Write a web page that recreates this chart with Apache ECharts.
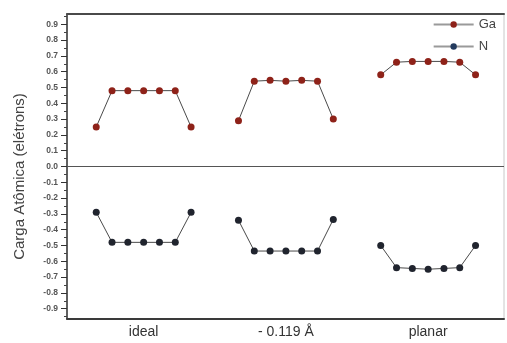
<!DOCTYPE html>
<html>
<head>
<meta charset="utf-8">
<script src="https://cdn.jsdelivr.net/npm/echarts@6/dist/echarts.min.js"></script>
<style>
  html, body { margin: 0; padding: 0; background: #fff; }
  #chart { width: 507px; height: 343px; }
</style>
</head>
<body>
<div id="chart"></div>
<script>
// Surface configurations (one group of seven atoms each)
const groups = ['ideal', '- 0.119 Å', 'planar'];

// Atomic charge (electrons) of the seven Ga atoms in each configuration
const gaIdeal  = [0.25, 0.48, 0.48, 0.48, 0.48, 0.48, 0.25];
const gaRelax  = [0.29, 0.54, 0.545, 0.54, 0.545, 0.54, 0.30];
const gaPlanar = [0.58, 0.66, 0.665, 0.665, 0.665, 0.66, 0.58];

// Atomic charge (electrons) of the seven N atoms in each configuration
const nIdeal  = [-0.29, -0.48, -0.48, -0.48, -0.48, -0.48, -0.29];
const nRelax  = [-0.34, -0.535, -0.535, -0.535, -0.535, -0.535, -0.335];
const nPlanar = [-0.50, -0.64, -0.645, -0.65, -0.645, -0.64, -0.50];

// Y-axis tick labels
const yTicks = [-0.9, -0.8, -0.7, -0.6, -0.5, -0.4, -0.3, -0.2, -0.1, 0.0,
                0.1, 0.2, 0.3, 0.4, 0.5, 0.6, 0.7, 0.8, 0.9];
const yMinorTicks = [-0.95, -0.85, -0.75, -0.65, -0.55, -0.45, -0.35, -0.25, -0.15, -0.05,
                     0.05, 0.15, 0.25, 0.35, 0.45, 0.55, 0.65, 0.75, 0.85, 0.95];

const gaSets = [gaIdeal, gaRelax, gaPlanar];
const nSets = [nIdeal, nRelax, nPlanar];

const GROUP_STEP = 9;   // x units between the first atoms of neighbouring groups
const groupCenters = groups.map((g, k) => k * GROUP_STEP + 3);

const GA_COLOR = '#8e2219';
const N_COLOR = '#20242e';
const LINE_COLOR = '#4a4a4a';

function toPairs(values, k) {
  return values.map((v, i) => [k * GROUP_STEP + i, v]);
}

const series = [];
gaSets.forEach((vals, k) => {
  series.push({
    name: 'Ga', type: 'line', data: toPairs(vals, k),
    symbol: 'circle', symbolSize: 7,
    itemStyle: { color: GA_COLOR },
    lineStyle: { color: LINE_COLOR, width: 1 },
    animation: false
  });
});
nSets.forEach((vals, k) => {
  series.push({
    name: 'N', type: 'line', data: toPairs(vals, k),
    symbol: 'circle', symbolSize: 7,
    itemStyle: { color: N_COLOR },
    lineStyle: { color: LINE_COLOR, width: 1 },
    animation: false
  });
});
// zero reference line across the plot
series[0].markLine = {
  silent: true, symbol: 'none', label: { show: false },
  lineStyle: { color: '#555', width: 1, type: 'solid' },
  data: [{ yAxis: 0 }]
};

const chart = echarts.init(document.getElementById('chart'), null, { renderer: 'canvas' });
chart.setOption({
  backgroundColor: '#fff',
  animation: false,
  textStyle: { fontFamily: 'Liberation Sans, Arial, sans-serif' },
  grid: {
    left: 67, right: 3, top: 14, bottom: 24,
    show: true, borderColor: '#c8c8c8', borderWidth: 1
  },
  legend: {
    orient: 'vertical', right: 6, top: 13,
    itemWidth: 40, itemHeight: 8, itemGap: 9,
    textStyle: { fontSize: 13, color: '#444' },
    data: [
      { name: 'Ga', itemStyle: { color: GA_COLOR }, lineStyle: { color: '#9a9a9a' } },
      { name: 'N', itemStyle: { color: '#233a5e' }, lineStyle: { color: '#9a9a9a' } }
    ]
  },
  xAxis: [
    {
      type: 'value', min: -1.85, max: 25.8, position: 'bottom',
      splitLine: { show: false },
      axisLine: { onZero: false, lineStyle: { color: '#3a3a3a', width: 2 } },
      axisTick: { show: false },
      axisLabel: {
        customValues: groupCenters,
        formatter: v => groups[groupCenters.indexOf(v)] || '',
        fontSize: 14, color: '#333', margin: 6
      }
    },
    {
      type: 'value', min: -1.85, max: 25.8, position: 'top',
      splitLine: { show: false },
      axisLine: { onZero: false, lineStyle: { color: '#4a4a4a', width: 2 } },
      axisTick: { show: false }, axisLabel: { show: false }
    }
  ],
  yAxis: [
    {
      type: 'value', min: -0.965, max: 0.965,
      name: 'Carga Atômica (elétrons)', nameLocation: 'middle', nameGap: 40,
      nameTextStyle: { fontSize: 15, color: '#444', padding: [0, 20, 0, 0] },
      splitLine: { show: false },
      axisLine: { onZero: false, lineStyle: { color: '#333', width: 1.5 } },
      axisTick: { customValues: yTicks, length: 6, lineStyle: { color: '#333', width: 1 } },
      axisLabel: {
        customValues: yTicks,
        formatter: v => v.toFixed(1),
        fontSize: 8.5, fontWeight: 'bold', color: '#555', margin: 9
      }
    },
    {
      type: 'value', min: -0.965, max: 0.965, position: 'left', offset: 0,
      splitLine: { show: false },
      axisLine: { show: false, onZero: false },
      axisTick: { customValues: yMinorTicks, length: 3, lineStyle: { color: '#444', width: 1 } },
      axisLabel: { show: false }
    }
  ],
  series: series
});
</script>
</body>
</html>
